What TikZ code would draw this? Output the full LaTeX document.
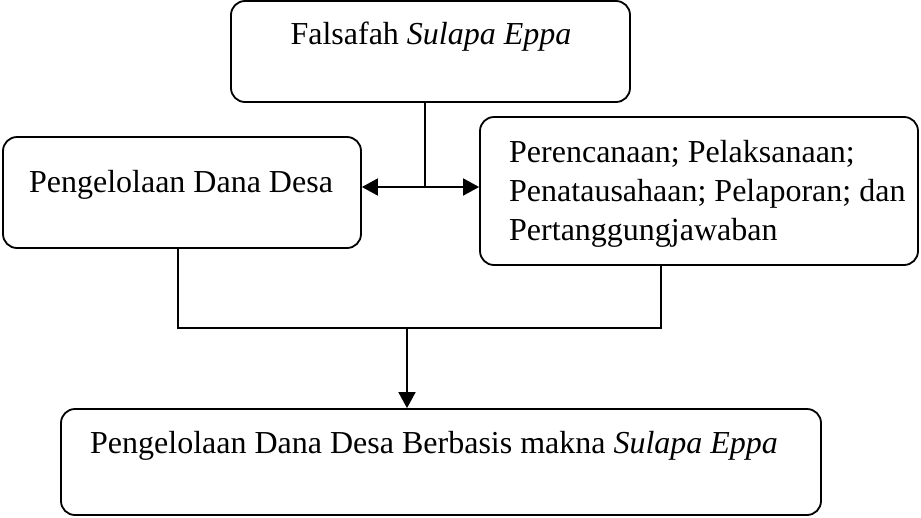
\documentclass[tikz,border=0pt]{standalone}
\usepackage{fontspec}
\setmainfont{Liberation Serif}
\usetikzlibrary{arrows.meta}
\begin{document}
\begin{tikzpicture}[x=1pt,y=-1pt,
  box/.style={draw,line width=1.8pt,rounded corners=14pt,inner sep=0pt},
  txt/.style={inner sep=0pt,anchor=base,font=\fontsize{32}{39}\selectfont},
  link/.style={line width=1.8pt},
  arr/.style={line width=1.8pt,-{Triangle[length=16pt,width=17pt]}}]
\useasboundingbox (0,0) rectangle (921,517);

% boxes
\node[box,minimum width=399pt,minimum height=101pt] (top) at (430.5,51.5) {};
\node[box,minimum width=358pt,minimum height=111pt] (left) at (182,192.5) {};
\node[box,minimum width=438pt,minimum height=148pt] (right) at (699,191) {};
\node[box,minimum width=760pt,minimum height=106pt] (bottom) at (441,462) {};

% texts (the three-line block is anchored on its last baseline)
\node[txt] (ttop) at (431,44) {Falsafah \textit{Sulapa Eppa}};
\node[txt] (tleft) at (181,192) {Pengelolaan Dana Desa};
\node[txt,anchor=base west,align=left] (tright) at (509,240)
  {Perencanaan; Pelaksanaan;\\Penatausahaan; Pelaporan; dan\\Pertanggungjawaban};
\node[txt,anchor=base west] (tbottom) at (90,453)
  {Pengelolaan Dana Desa Berbasis makna \textit{Sulapa Eppa}};

% junction points
\coordinate (J) at (425,187);
\coordinate (L) at (178,328);
\coordinate (R) at (661,328);
\coordinate (M) at (407,328);

% connectors
\draw[link] (top.south -| J) -- (J);
\draw[arr] (J) -- (left.east |- J);
\draw[arr] (J) -- (right.west |- J);
\draw[link] (left.south -| L) -- (L) -- (R) -- (right.south -| R);
\draw[arr] (M) -- (bottom.north -| M);
\end{tikzpicture}
\end{document}
